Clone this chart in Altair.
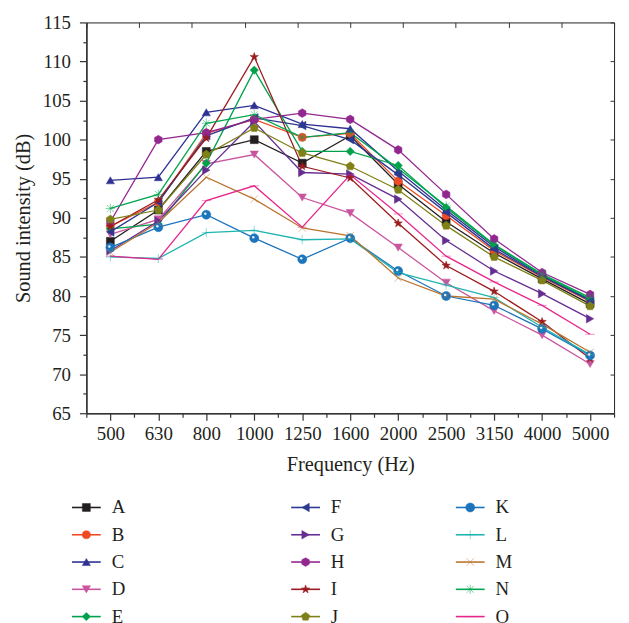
import altair as alt
import numpy as np
import pandas as pd

freqs = ["500", "630", "800", "1000", "1250", "1600", "2000", "2500", "3150", "4000", "5000"]
series_names = list("ABCDEFGHIJKLMNO")

A = [87.0, 91.0, 98.5, 100.0, 97.0, 100.5, 94.3, 89.5, 85.5, 82.2, 79.0]
B = [88.9, 92.0, 100.8, 102.6, 100.3, 100.8, 94.7, 90.3, 85.8, 82.4, 79.3]
C = [94.8, 95.2, 103.5, 104.4, 102.0, 101.4, 96.0, 91.0, 86.3, 82.6, 79.5]
D = [87.9, 89.8, 96.9, 98.1, 92.6, 90.6, 86.2, 81.7, 78.1, 75.0, 71.3]
E = [88.6, 89.2, 97.0, 108.9, 98.5, 98.5, 96.7, 91.3, 86.5, 82.7, 79.6]
F = [88.2, 92.0, 100.5, 102.8, 101.8, 100.0, 95.5, 90.7, 86.0, 82.5, 79.4]
G = [85.8, 89.6, 96.1, 102.3, 95.8, 95.6, 92.4, 87.1, 83.2, 80.3, 77.1]
H = [89.5, 100.0, 100.9, 102.6, 103.4, 102.6, 98.7, 93.0, 87.3, 83.0, 80.2]
I = [88.9, 92.3, 100.2, 110.6, 96.6, 95.1, 89.3, 83.9, 80.6, 76.7, 72.0]
J = [89.8, 91.0, 98.1, 101.5, 98.3, 96.6, 93.6, 89.0, 85.0, 82.0, 78.7]
K = [86.2, 88.8, 90.4, 87.4, 84.7, 87.4, 83.2, 80.0, 78.8, 75.8, 72.4]
L = [85.0, 84.8, 88.1, 88.4, 87.2, 87.3, 83.0, 81.4, 79.8, 76.0, 72.5]
M = [85.6, 89.4, 95.2, 92.4, 88.7, 87.7, 82.3, 80.0, 79.6, 76.4, 72.8]
N = [91.2, 93.0, 102.1, 103.2, 100.3, 100.9, 96.3, 91.5, 86.6, 82.8, 79.8]
O = [85.1, 84.7, 92.2, 94.1, 88.8, 95.5, 90.5, 85.1, 81.8, 78.8, 75.1]

values = [A, B, C, D, E, F, G, H, I, J, K, L, M, N, O]

colors = ["#231f20", "#f04a24", "#2e3192", "#c9559e", "#00a14b", "#2b3990", "#662d91",
          "#92278f", "#9b1b1f", "#808019", "#1c75bc", "#1fb5b0", "#b9742f", "#00a651", "#e7258c"]

hexagon = "M0,-1L0.866,-0.5L0.866,0.5L0,1L-0.866,0.5L-0.866,-0.5Z"
star = ("M0,-1L0.235,-0.324L0.951,-0.309L0.380,0.124L0.588,0.809L0,0.4"
        "L-0.588,0.809L-0.380,0.124L-0.951,-0.309L-0.235,-0.324Z")
pentagon = "M0,-1L0.951,-0.309L0.588,0.809L-0.588,0.809L-0.951,-0.309Z"
plus = "M-1,0L1,0M0,-1L0,1"
xmark = "M-0.8,-0.8L0.8,0.8M-0.8,0.8L0.8,-0.8"
asterisk = "M-1,0L1,0M0,-1L0,1M-0.75,-0.75L0.75,0.75M-0.75,0.75L0.75,-0.75"
dash = "M-1,0L1,0"
shapes = ["square", "circle", "triangle-up", "triangle-down", "diamond", "triangle-left",
          "triangle-right", hexagon, star, pentagon, "circle", plus, xmark, asterisk, dash]
sizes = [64, 90, 110, 110, 95, 110, 110, 100, 170, 115, 100, 70, 80, 110, 64]
stroke_widths = [0.5, 0.5, 0.5, 0.5, 0.5, 0.5, 0.5, 0.5, 0.5, 0.5, 0.5, 1.2, 1.3, 1.2, 1.8]

rows = []
for s, vals in zip(series_names, values):
    for i, v in enumerate(vals):
        rows.append({"series": s, "idx": i, "freq": freqs[i], "value": v})
df = pd.DataFrame(rows)

FONT = "Liberation Serif"
TXT = "#231f20"
FS = 19
TFS = 20.5

color_scale = alt.Scale(domain=series_names, range=colors)
shape_scale = alt.Scale(domain=series_names, range=shapes)
size_scale = alt.Scale(domain=series_names, range=sizes)
sw_scale = alt.Scale(domain=series_names, range=stroke_widths)

freq_js = "[" + ",".join("'" + f + "'" for f in freqs) + "]"
x_label_expr = "datum.value % 1 == 0 ? " + freq_js + "[datum.value] : ''"
x_scale = alt.Scale(domain=[-0.5, len(freqs) - 0.5], nice=False, zero=False)
y_scale = alt.Scale(domain=[65, 115], nice=False, zero=False)

x_ticks = [float(v) for v in np.arange(-0.5, len(freqs) - 0.5 + 0.01, 0.5)]
y_ticks = [float(v) for v in np.arange(65, 115.01, 2.5)]

bottom_axis = alt.Axis(
    values=x_ticks,
    labelExpr=x_label_expr,
    tickSize={"condition": {"test": "datum.value % 1 != 0", "value": 4}, "value": 7},
    title="Frequency (Hz)", grid=False, labelPadding=4, titlePadding=12,
    domainColor="#333333", domainWidth=1.5, tickColor="#333333", tickWidth=1.2,
)
left_axis = alt.Axis(
    values=y_ticks,
    labelExpr="datum.value % 5 == 0 ? datum.label : ''",
    tickSize={"condition": {"test": "datum.value % 5 != 0", "value": 3.5}, "value": 7},
    title="Sound intensity (dB)", grid=False, labelPadding=9, titlePadding=9,
    domainColor="#333333", domainWidth=1.5, tickColor="#333333", tickWidth=1.2,
)
top_axis = alt.Axis(
    orient="top", values=[float(v) for v in np.linspace(-0.5, len(freqs) - 0.5, 11)], labels=False,
    domain=False, tickSize=5, offset=-5, title=None, grid=False, tickColor="#333333",
)
right_axis = alt.Axis(
    orient="right", values=[float(v) for v in np.arange(65, 115.01, 5)], labels=False,
    domain=False, tickSize=4, offset=-4, title=None, grid=False, tickColor="#333333",
)

lines = alt.Chart(df).mark_line(strokeWidth=1.3).encode(
    x=alt.X("idx:Q", scale=x_scale, axis=bottom_axis),
    y=alt.Y("value:Q", scale=y_scale, axis=left_axis),
    color=alt.Color("series:N", scale=color_scale, legend=None),
    detail="series:N",
    order="idx:Q",
)

points = alt.Chart(df).mark_point(filled=True, opacity=1).encode(
    x=alt.X("idx:Q", scale=x_scale, axis=top_axis),
    y=alt.Y("value:Q", scale=y_scale, axis=right_axis),
    fill=alt.Fill("series:N", scale=color_scale, legend=None),
    stroke=alt.Stroke("series:N", scale=color_scale, legend=None),
    shape=alt.Shape("series:N", scale=shape_scale, legend=None),
    size=alt.Size("series:N", scale=size_scale, legend=None),
    strokeWidth=alt.StrokeWidth("series:N", scale=sw_scale, legend=None),
)

shine = alt.Chart(df).transform_filter(alt.datum.series == "K").mark_point(
    filled=True, color="white", size=6, xOffset=-1, yOffset=-1, opacity=0.9
).encode(
    x=alt.X("idx:Q", scale=x_scale, axis=None),
    y=alt.Y("value:Q", scale=y_scale, axis=None),
)

main = alt.layer(lines, points, shine).resolve_scale(
    x="shared", y="shared"
).resolve_axis(x="independent", y="independent").properties(
    width=532, height=394,
    view=alt.ViewBackground(stroke="#231f20", strokeWidth=1),
)

leg_df = pd.DataFrame({
    "series": series_names,
    "col": [i // 5 for i in range(len(series_names))],
    "row": [i % 5 for i in range(len(series_names))],
})
lx = alt.X("col:Q", scale=alt.Scale(domain=[0, 1, 2], range=[0, 221, 387]), axis=None)
ly = alt.Y("row:Q", scale=alt.Scale(domain=[0, 4], reverse=True, nice=False, zero=False), axis=None)

leg_rule = alt.Chart(leg_df).mark_rule(strokeWidth=1.6, xOffset=-14.5, x2Offset=14.5).encode(
    x=lx, x2="col:Q", y=ly,
    color=alt.Color("series:N", scale=color_scale, legend=None),
)
leg_pts = alt.Chart(leg_df).mark_point(filled=True, opacity=1).encode(
    x=lx, y=ly,
    fill=alt.Fill("series:N", scale=color_scale, legend=None),
    stroke=alt.Stroke("series:N", scale=color_scale, legend=None),
    shape=alt.Shape("series:N", scale=shape_scale, legend=None),
    size=alt.Size("series:N", scale=size_scale, legend=None),
    strokeWidth=alt.StrokeWidth("series:N", scale=sw_scale, legend=None),
)
leg_txt = alt.Chart(leg_df).mark_text(
    align="left", baseline="middle", dx=25.5, font=FONT, fontSize=FS, color=TXT
).encode(x=lx, y=ly, text="series:N")

legend = alt.layer(leg_rule, leg_pts, leg_txt).properties(
    width=532, height=110, view=alt.ViewBackground(stroke="transparent")
)

chart = alt.vconcat(main, legend, spacing=95, bounds="flush").properties(
    padding={"left": 5, "top": 2, "right": 5, "bottom": 5}
).configure_axis(
    labelFont=FONT, titleFont=FONT, labelFontSize=FS, titleFontSize=TFS,
    labelColor=TXT, titleColor=TXT, titleFontWeight="normal",
).configure_view(stroke="transparent")

chart.save("out.html", embed_options={"renderer": "svg", "actions": False})
